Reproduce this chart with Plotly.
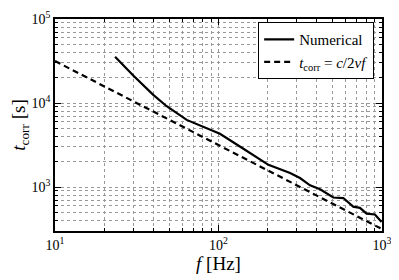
import plotly.graph_objects as go

# Numerical correlation time
f_num = [23.3, 30.1, 39.9, 48.2, 63.9, 77.1, 102, 142, 202, 274, 315, 363, 418, 504, 580, 667, 733, 805, 905, 995]
t_num = [35500, 21300, 12500, 9160, 6300, 5360, 4300, 2860, 1840, 1470, 1280, 1050, 940, 751, 740, 585, 565, 482, 472, 385]

# Analytical t_corr = c / 2 v f
f_ana = [10, 1000]
t_ana = [31600, 316]

# Tick labels
x_tickvals = [10, 100, 1000]
x_ticktext = ["10<sup>1</sup>", "10<sup>2</sup>", "10<sup>3</sup>"]
y_tickvals = [1000, 10000, 100000]
y_ticktext = ["10<sup>3</sup>", "10<sup>4</sup>", "10<sup>5</sup>"]

FONT = "Liberation Serif"

fig = go.Figure()
fig.add_trace(go.Scatter(x=f_num, y=t_num, mode="lines", name="Numerical",
                         line=dict(color="black", width=2.2)))
fig.add_trace(go.Scatter(x=f_ana, y=t_ana, mode="lines",
                         name="<i>t</i><sub>corr</sub> = <i>c</i>/2<i>vf</i>",
                         line=dict(color="black", width=2.2, dash="6px,4px")))

axis_common = dict(
    type="log", showline=True, linecolor="black", linewidth=1.5, mirror="allticks",
    ticks="inside", ticklen=6, tickcolor="black", tickwidth=1,
    showgrid=True, gridcolor="#999999", griddash="dot", gridwidth=1,
    zeroline=False, automargin=False, tickmode="array", ticklabeloverflow="allow",
    tickfont=dict(family=FONT, size=14, color="black"),
    minor=dict(ticks="inside", ticklen=3, tickcolor="black", showgrid=True, dtick="D1",
               gridcolor="#999999", griddash="dot", gridwidth=1),
)

# the page body adds an 8px offset, so the figure is sized to fit the window
fig.update_layout(
    width=391, height=272,
    margin=dict(l=47, r=17, t=11, b=49),
    plot_bgcolor="white", paper_bgcolor="white",
    font=dict(family=FONT, color="black"),
    xaxis=dict(range=[0.9999, 3.0001], tickvals=x_tickvals, ticktext=x_ticktext,
               title=dict(text="<i>f</i> [Hz]", font=dict(family=FONT, size=19), standoff=0),
               **axis_common),
    yaxis=dict(range=[2.477, 5.0002], tickvals=y_tickvals, ticktext=y_ticktext,
               title=dict(text="<i>t</i><sub>corr</sub> [s]", font=dict(family=FONT, size=19), standoff=4),
               **axis_common),
    legend=dict(x=0.976, y=0.985, xanchor="right", yanchor="top",
                bgcolor="white", bordercolor="black", borderwidth=1,
                font=dict(family=FONT, size=15), tracegroupgap=0, itemwidth=30),
    showlegend=True,
)

fig.write_html("out.html")
